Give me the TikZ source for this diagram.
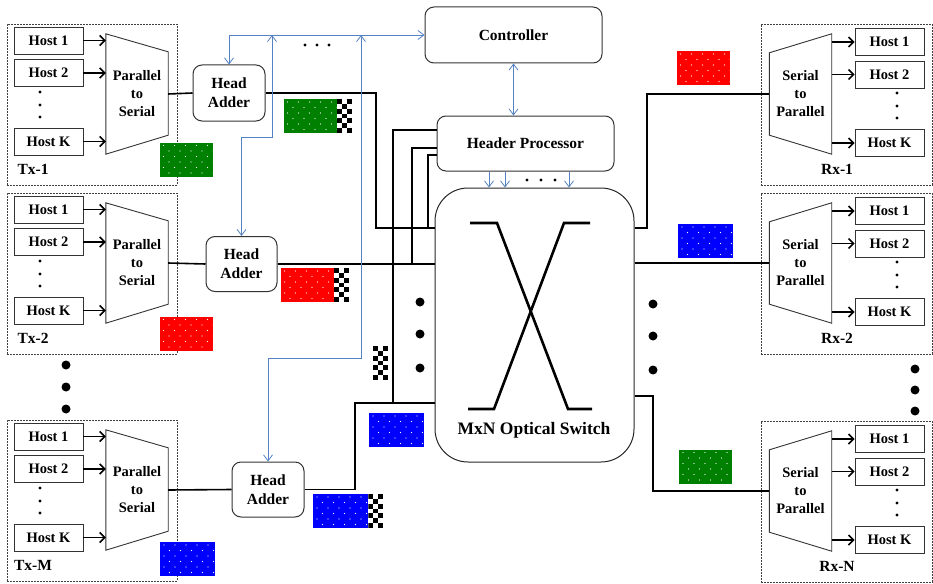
\documentclass[tikz,border=0pt]{standalone}
\usepackage{fontspec}
\setmainfont{Liberation Serif}
\usetikzlibrary{calc,arrows.meta,positioning}
\definecolor{ctrlblue}{RGB}{84,130,196}
\definecolor{pktgreen}{RGB}{0,128,0}
\definecolor{pktred}{RGB}{255,0,0}
\definecolor{pktblue}{RGB}{0,0,255}

\begin{document}
\begin{tikzpicture}[x=1pt, y=-1pt,
    host/.style={rectangle, draw=black!80, line width=0.9pt, minimum width=69, minimum height=27, inner sep=0pt, font=\fontsize{14.5}{17}\selectfont\bfseries},
    txframe/.style={rectangle, draw=black!75, dashed, dash pattern=on 2pt off 1pt, line width=0.7pt, minimum width=170, minimum height=161, inner sep=0pt},
    conv/.style={rectangle, minimum width=62, minimum height=120, inner sep=0pt, align=center, font=\fontsize{14.5}{18}\selectfont\bfseries},
    convline/.style={draw=black!80, line width=0.9pt},
    rbox/.style={rectangle, rounded corners=9pt, draw=black!80, line width=1pt, inner sep=0pt, align=center, font=\fontsize{15.5}{19}\selectfont\bfseries},
    hostarrow/.style={line width=1.5pt, -{Straight Barb[length=5pt,width=10pt]}},
    wire/.style={line width=1.6pt},
    ctrl/.style={draw=ctrlblue, line width=0.8pt, {Straight Barb[length=6pt,width=9pt]}-{Straight Barb[length=6pt,width=9pt]}},
    lbl/.style={font=\fontsize{15.5}{18}\selectfont\bfseries},
    pkt/.style={rectangle, minimum width=53, minimum height=34, inner sep=0pt, path picture={
        \foreach \i in {0,...,4} \foreach \j in {0,...,5}
          \fill[white] ($(path picture bounding box.north west)+({4+\i*11+mod(\j,2)*5.5},{3+\j*5.5})$) circle (0.7pt);}},
    chk/.style={rectangle, fill=white, minimum width=15, minimum height=34, inner sep=0pt, path picture={
        \foreach \i in {0,1,2} \foreach \j in {0,...,6} {
          \pgfmathtruncatemacro\k{\i+\j}
          \ifodd\k\relax\else
            \fill[black] ($(path picture bounding box.north west)+(\i*5,\j*4.857)$) rectangle ++(5,4.857);
          \fi}}}
  ]
  \useasboundingbox (0,0) rectangle (933,583);

  \foreach \T/\n/\lab in {24/1/Tx-1, 193/2/Tx-2, 420/3/Tx-M}{
    \node[txframe] (txf\n) at (92,\T+80.5) {};
    \node[host] (th1\n) at (48.5,\T+16.5) {Host 1};
    \node[host] (th2\n) at (48.5,\T+49) {Host 2};
    \node[host] (thk\n) at (48.5,\T+117.5) {Host K};
    \foreach \d in {68,81,93} \fill (40,\T+\d) circle (1.6pt);
    \node[conv] (ps\n) at (137,\T+70) {Parallel\\to\\Serial};
    \draw[convline] (ps\n.north west) -- ([yshift=-18pt]ps\n.north east) -- ([yshift=19pt]ps\n.south east) -- (ps\n.south west) -- cycle;
    \foreach \h in {th1,th2,thk} \draw[hostarrow] (\h\n.east) -- (\h\n.east -| ps\n.west);
    \node[lbl] (txl\n) at (33,\T+145) {\lab};
  }

  \foreach \T/\n/\lab in {24/1/Rx-1, 193/2/Rx-2, 421/3/Rx-N}{
    \node[txframe, minimum width=171] (rxf\n) at (846.5,\T+80.5) {};
    \node[host] (rh1\n) at (889.5,\T+18) {Host 1};
    \node[host] (rh2\n) at (889.5,\T+50.5) {Host 2};
    \node[host] (rhk\n) at (889.5,\T+119) {Host K};
    \foreach \d in {69,82,94} \fill (897,\T+\d) circle (1.6pt);
    \node[conv] (rs\n) at (800.5,\T+70) {Serial\\to\\Parallel};
    \draw[convline] ([yshift=-19pt]rs\n.north west) -- (rs\n.north east) -- (rs\n.south east) -- ([yshift=19pt]rs\n.south west) -- cycle;
    \foreach \h in {rh1,rh2,rhk} \draw[hostarrow] (\h\n.west -| rs\n.east) -- (\h\n.west);
    \node[lbl] (rxl\n) at (837,\T+145) {\lab};
  }

  \foreach \y in {365,387,409} \fill (66,\y) circle (4.5pt);
  \foreach \y in {369,390,411} \fill (915,\y) circle (4.5pt);
  \foreach \y in {302,334,368} \fill (420,\y) circle (4.5pt);
  \foreach \y in {304,336,370} \fill (653,\y) circle (4.5pt);

  \node[rbox, minimum width=72, minimum height=56] (ha1) at (229,93) {Head\\Adder};
  \node[rbox, minimum width=71, minimum height=55] (ha2) at (241.5,264) {Head\\Adder};
  \node[rbox, minimum width=72, minimum height=55] (ha3) at (268,489.5) {Head\\Adder};
  \node[rbox, minimum width=177, minimum height=56] (ctrl) at (513.5,35) {Controller};
  \node[rbox, minimum width=177, minimum height=55] (hp) at (525.5,143.5) {Header Processor};
  \node[rectangle, rounded corners=33pt, draw=black!85, line width=1pt, minimum width=199, minimum height=274] (sw) at (534.5,325) {};
  \node[font=\fontsize{17.5}{20}\selectfont\bfseries] (swl) at (534,430) {MxN Optical Switch};

  \draw[line width=2.6pt] (470,223) -- (497,223) -- (568,409) -- (592,409);
  \draw[line width=2.6pt] (590,223) -- (564,223) -- (494,409) -- (468,409);

  \foreach \n in {1,2,3} \draw[wire] (ps\n.east) -- (ha\n.west);
  \draw[wire] (ha1.east) -| (376,228) -- (sw.west |- 0,228);
  \draw[wire] (ha2.east) -- (sw.west |- ha2.east);
  \draw[wire] (ha3.east) -| (355,403) -- (sw.west |- 0,403);
  \draw[wire] (hp.west |- 0,130) -| (393,403);
  \draw[wire] (hp.west |- 0,148) -| (412,264);
  \draw[wire] (hp.west |- 0,155) -| (428,228);
  \draw[wire] (sw.east |- 0,228) -- (647,228) |- (rs1.west);
  \draw[wire] (sw.east |- rs2.west) -- (rs2.west);
  \draw[wire] (sw.east |- 0,396) -- (653,396) |- (rs3.west);

  \coordinate (tap2) at (272,35);
  \coordinate (tap3) at (361,35);
  \draw[ctrl] (ha1.north) |- (ctrl.west);
  \draw[ctrl] (ha2.north) |- (272,137) -- (tap2);
  \draw[ctrl] (ha3.north) |- (361,358) -- (tap3);
  \draw[ctrl] (ctrl.south) -- (ctrl.south |- hp.north);
  \foreach \x in {489,505,569} \draw[ctrl, {}-{Straight Barb[length=6pt,width=9pt]}] (\x,0 |- hp.south) -- (\x,0 |- sw.north);
  \foreach \x in {305,317,329} \fill (\x,45) circle (1.7pt);
  \foreach \x in {527,541,555} \fill (\x,180) circle (1.7pt);

  \node[pkt, fill=pktgreen] (pk1) at (310,116) {};
  \node[chk, right=0pt of pk1] (ck1) {};
  \node[pkt, fill=pktred] (pk2) at (307,285) {};
  \node[chk, right=0pt of pk2] (ck2) {};
  \node[pkt, fill=pktblue, minimum width=55] (pk3) at (340.5,511) {};
  \node[chk, right=0pt of pk3] (ck3) {};
  \node[chk] (ck4) at (380.5,363) {};
  \node[pkt, fill=pktblue, minimum width=55] (pk4) at (396.5,430) {};
  \node[pkt, fill=pktgreen] (tp1) at (186,159.5) {};
  \node[pkt, fill=pktred] (tp2) at (186,333.5) {};
  \node[pkt, fill=pktblue, minimum width=55] (tp3) at (187.5,559) {};
  \node[pkt, fill=pktred] (rp1) at (703,68) {};
  \node[pkt, fill=pktblue, minimum width=55] (rp2) at (705.5,241) {};
  \node[pkt, fill=pktgreen] (rp3) at (705.5,466.5) {};
\end{tikzpicture}
\end{document}
